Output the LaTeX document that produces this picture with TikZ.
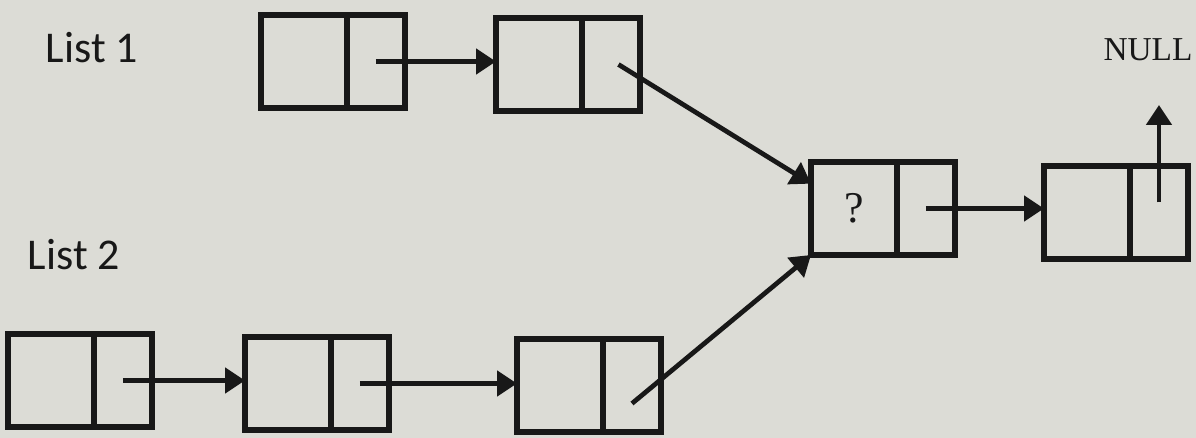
\documentclass[tikz,border=0pt]{standalone}
\usepackage{fontspec}
\setmainfont{Liberation Serif}
\newfontfamily\labelfont{Carlito}
\usetikzlibrary{positioning,arrows.meta}
\definecolor{paper}{RGB}{220,220,214}
\definecolor{ink}{RGB}{24,24,24}

\begin{document}
\begin{tikzpicture}[x=0.02cm, y=-0.02cm, ink, draw=ink,
  data/.style={draw, line width=3pt, rectangle, anchor=north west, minimum width=1.72cm, minimum height=1.86cm, inner sep=0pt, outer sep=0pt, font=\fontsize{25}{30}\selectfont},
  link/.style={draw, line width=3pt, rectangle, minimum width=1.16cm, minimum height=1.86cm, inner sep=0pt, outer sep=0pt, right=0pt of #1},
  ptr/.style={line width=2.7pt, -{Triangle[length=0.4cm, width=0.5cm]}},
  listlabel/.style={font=\labelfont\fontsize{25}{30}\selectfont},
  nulltext/.style={font=\fontsize{19}{23}\selectfont}]

  \useasboundingbox[fill=paper] (0,0) rectangle (1196,438);

  \node[listlabel] (l1) at (92,48) {List 1};
  \node[listlabel] (l2) at (74,255) {List 2};
  \node[nulltext] (null) at (1148,50) {NULL};
  \coordinate (nil) at (1158,105);

  \node[data] (A) at (261,15) {};   \node[link=A] (A-p) {};
  \node[data] (B) at (496,18) {};   \node[link=B] (B-p) {};
  \node[data] (M) at (811,162) {?}; \node[link=M] (M-p) {};
  \node[data] (N) at (1044,166) {}; \node[link=N] (N-p) {};
  \node[data] (C) at (8,334) {};    \node[link=C] (C-p) {};
  \node[data] (D) at (245,337) {};  \node[link=D] (D-p) {};
  \node[data] (E) at (517,339) {};  \node[link=E] (E-p) {};

  \draw[ptr] (A-p.center) -- (A-p.center -| B.west);
  \draw[ptr] ([xshift=0.15cm]B-p.center) -- (M.150);
  \draw[ptr] (C-p.center) -- (C-p.center -| D.west);
  \draw[ptr] (D-p.center) -- (D-p.center -| E.west);
  \draw[ptr] ([yshift=-0.36cm]E-p.center) -- (M.south west);
  \draw[ptr] (M-p.center) -- (M-p.center -| N.west);
  \draw[ptr] ([yshift=0.2cm]N-p.center) -- (N-p.center |- nil);

\end{tikzpicture}
\end{document}
